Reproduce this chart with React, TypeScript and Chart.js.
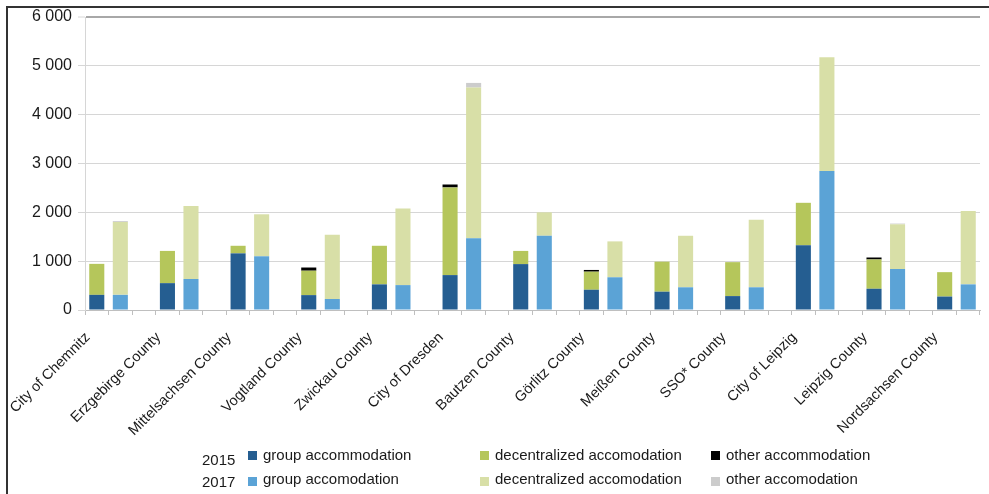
import React, { useEffect, useRef } from "react";
import { Chart, registerables } from "chart.js";

Chart.register(...registerables);

const categories = [
  "City of Chemnitz",
  "Erzgebirge County",
  "Mittelsachsen County",
  "Vogtland County",
  "Zwickau County",
  "City of Dresden",
  "Bautzen County",
  "Görlitz County",
  "Meißen County",
  "SSO* County",
  "City of Leipzig",
  "Leipzig County",
  "Nordsachsen County",
];

const group2015 = [310, 550, 1160, 305, 525, 715, 940, 415, 375, 285, 1325, 435, 275];
const decentral2015 = [635, 660, 155, 500, 790, 1795, 270, 370, 615, 695, 870, 600, 500];
const other2015 = [0, 0, 0, 65, 0, 60, 0, 35, 0, 0, 0, 40, 0];

const group2017 = [310, 635, 1100, 225, 510, 1470, 1520, 670, 465, 465, 2845, 840, 525];
const decentral2017 = [1490, 1495, 860, 1315, 1570, 3085, 480, 735, 1055, 1385, 2330, 915, 1500];
const other2017 = [20, 0, 0, 0, 0, 95, 0, 0, 0, 0, 0, 15, 0];

const yTickValues = [0, 1000, 2000, 3000, 4000, 5000, 6000];

const legendRows = [
  { year: "2015", items: ["group accommodation", "decentralized accomodation", "other accommodation"] },
  { year: "2017", items: ["group accomodation", "decentralized accomodation", "other accomodation"] },
];

const COLORS = {
  g15: "#255e91",
  d15: "#b5c65b",
  o15: "#000000",
  g17: "#5ba3d6",
  d17: "#d8dfa7",
  o17: "#cccccc",
};

const slotCount = categories.length * 3 - 1;

function slotLabels(): string[] {
  const out: string[] = [];
  for (let s = 0; s < slotCount; s++) out.push(s % 3 === 0 ? categories[s / 3] : "");
  return out;
}

function slotData(values: number[], yearOffset: number): (number | null)[] {
  const out: (number | null)[] = new Array(slotCount).fill(null);
  values.forEach((v, i) => {
    out[i * 3 + yearOffset] = v > 0 ? v : null;
  });
  return out;
}

const FONT = "'Liberation Sans', Arial, sans-serif";

export default function App() {
  const ref = useRef<HTMLCanvasElement | null>(null);

  useEffect(() => {
    if (!ref.current) return;
    const mk = (label: string, vals: number[], off: number, color: string) => ({
      label,
      data: slotData(vals, off),
      backgroundColor: color,
      borderWidth: 0,
      stack: "s",
      barPercentage: 0.64,
      categoryPercentage: 1,
    });
    const chart = new Chart(ref.current, {
      type: "bar",
      data: {
        labels: slotLabels(),
        datasets: [
          mk("2015 group accommodation", group2015, 0, COLORS.g15),
          mk("2015 decentralized accomodation", decentral2015, 0, COLORS.d15),
          mk("2015 other accommodation", other2015, 0, COLORS.o15),
          mk("2017 group accomodation", group2017, 1, COLORS.g17),
          mk("2017 decentralized accomodation", decentral2017, 1, COLORS.d17),
          mk("2017 other accomodation", other2017, 1, COLORS.o17),
        ],
      },
      options: {
        responsive: false,
        animation: false,
        events: [],
        layout: { padding: { left: 0, right: 20, top: 17, bottom: 0 } },
        plugins: { legend: { display: false }, tooltip: { enabled: false } },
        scales: {
          x: {
            type: "category",
            stacked: true,
            offset: true,
            afterFit: (s: any) => {
              s.height = 494 - 310;
            },
            grid: {
              offset: true,
              drawOnChartArea: false,
              drawTicks: true,
              tickLength: 5,
              color: "#bfbfbf",
              lineWidth: 1,
            },
            border: { color: "#bfbfbf", width: 1 },
            ticks: {
              autoSkip: false,
              minRotation: 45,
              maxRotation: 45,
              padding: 14,
              labelOffset: -9,
              color: "#1a1a1a",
              font: { family: FONT, size: 14.5 },
            },
          },
          y: {
            stacked: true,
            min: 0,
            max: 6000,
            afterFit: (s: any) => {
              s.width = 85;
            },
            afterBuildTicks: (s: any) => {
              s.ticks = yTickValues.map((v) => ({ value: v }));
            },
            grid: {
              color: (ctx: any) => (ctx.tick && ctx.tick.value === 6000 ? "#a8a8a8" : "#d6d6d6"),
              lineWidth: (ctx: any) => (ctx.tick && ctx.tick.value === 6000 ? 2 : 1),
              tickLength: 7,
              tickColor: "#d6d6d6",
              tickWidth: 1,
            },
            border: { color: "#d6d6d6", width: 1 },
            ticks: {
              padding: 6,
              color: "#1a1a1a",
              font: { family: FONT, size: 16 },
              callback: (v: any) => {
                const n = Number(v);
                return n >= 1000 ? `${Math.floor(n / 1000)} ${String(n % 1000).padStart(3, "0")}` : String(n);
              },
            },
          },
        },
      },
    });
    return () => chart.destroy();
  }, []);

  const sq = (color: string) => ({ background: color, width: 9, height: 9, position: "absolute" as const });
  const colX = [248, 480, 711];
  const rowSq = [451, 476.5];
  const rowText = [446, 470];
  const yearTop = [451, 473];
  const colorsByRow = [
    [COLORS.g15, COLORS.d15, COLORS.o15],
    [COLORS.g17, COLORS.d17, COLORS.o17],
  ];

  return (
    <div style={{ position: "absolute", left: 0, top: 0, width: 989, height: 494, overflow: "hidden", background: "#fff", fontFamily: FONT }}>
      <canvas ref={ref} width={1000} height={494} style={{ position: "absolute", left: 0, top: 0, width: 1000, height: 494 }} />
      <div style={{ position: "absolute", left: 6, top: 6, width: 983, height: 2, background: "#333" }} />
      <div style={{ position: "absolute", left: 6, top: 6, width: 2, height: 488, background: "#333" }} />
      {legendRows.map((row, r) => (
        <React.Fragment key={row.year}>
          <div style={{ position: "absolute", left: 202, top: yearTop[r], fontSize: 15, lineHeight: "18px", color: "#1a1a1a", whiteSpace: "nowrap" }}>{row.year}</div>
          {row.items.map((it, c) => (
            <React.Fragment key={c}>
              <div style={{ ...sq(colorsByRow[r][c]), left: colX[c], top: rowSq[r] }} />
              <div style={{ position: "absolute", left: colX[c] + 15, top: rowText[r], fontSize: 15, lineHeight: "18px", color: "#1a1a1a", whiteSpace: "nowrap" }}>{it}</div>
            </React.Fragment>
          ))}
        </React.Fragment>
      ))}
    </div>
  );
}
